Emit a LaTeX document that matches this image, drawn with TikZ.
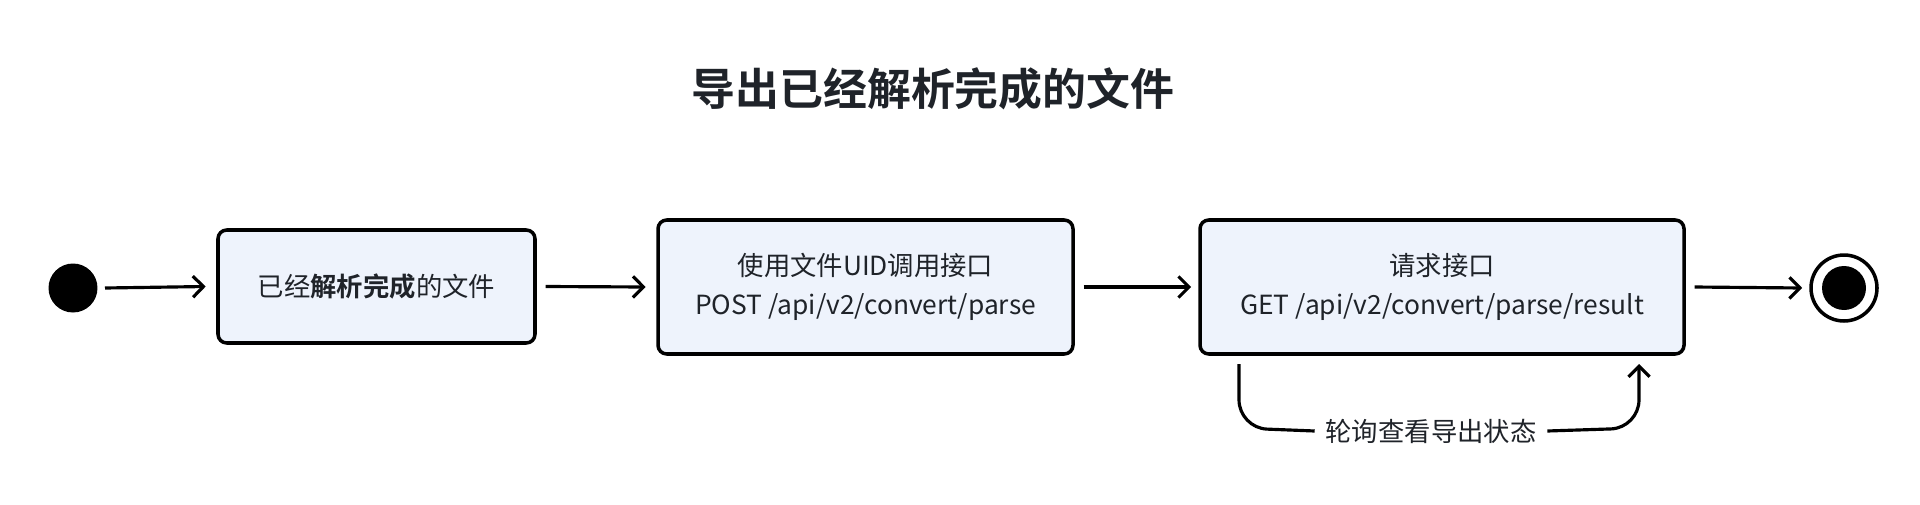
\documentclass[tikz,border=0pt]{standalone}
\usepackage{fontspec}
\setmainfont{Noto Sans CJK SC}[BoldFont={Noto Sans CJK SC Bold}]
\usetikzlibrary{arrows.meta}
\definecolor{boxfill}{HTML}{EEF3FC}
\definecolor{ink}{HTML}{1F2329}
\begin{document}
\begin{tikzpicture}[x=0.02cm,y=-0.02cm,
  st/.style={draw=black,line width=2pt,fill=boxfill,rounded corners=5pt,align=center,font=\fontsize{15}{22}\selectfont,text=ink,inner sep=0pt},
  ar/.style={line width=1.8pt,-{Straight Barb[length=6pt,width=12pt,line width=1.8pt]}},
  lbl/.style={font=\fontsize{15}{18}\selectfont,text=ink}]
\useasboundingbox (0,0) rectangle (1920,504);
\node[font=\fontsize{25}{30}\selectfont\bfseries,text=ink] (title) at (933,89) {导出已经解析完成的文件};
\node[circle,fill=black,minimum size=49\pgflinewidth,inner sep=0pt,minimum size=0.98cm] (start) at (73,288) {};
\node[st,minimum width=317*0.02cm,minimum height=113*0.02cm] (b1) at (376.5,286.5) {已经\textbf{解析完成}的文件};
\node[st,minimum width=415*0.02cm,minimum height=134*0.02cm] (b2) at (865.5,287) {使用文件UID调用接口\\POST /api/v2/convert/parse};
\node[st,minimum width=484*0.02cm,minimum height=134*0.02cm] (b3) at (1442,287) {请求接口\\GET /api/v2/convert/parse/result};
\node[circle,draw=black,line width=2pt,minimum size=1.32cm,inner sep=0pt] (end) at (1844,288) {};
\node[circle,fill=black,minimum size=0.88cm,inner sep=0pt] at (end) {};
\draw[ar] (start) ++(32,0) coordinate (s1) -- ([xshift=-6pt]b1.west);
\draw[ar] ([xshift=5pt]b1.east) -- ([xshift=-6pt]b2.west);
\draw[ar] ([xshift=5pt]b2.east) -- ([xshift=-4pt]b3.west);
\draw[ar] ([xshift=5pt]b3.east) -- ([xshift=-4pt]end.west);
\coordinate (l1) at (1239,364);
\coordinate (l2) at (1639,364);
\node[lbl,fill=white,inner xsep=6pt] (lab) at (1431,431) {轮询查看导出状态};
\draw[line width=1.8pt,rounded corners=16pt] (l1) -- (1239,428) -- (lab.west);
\draw[ar,rounded corners=16pt] (lab.east) -- (1639,428) -- (l2);
\end{tikzpicture}
\end{document}
